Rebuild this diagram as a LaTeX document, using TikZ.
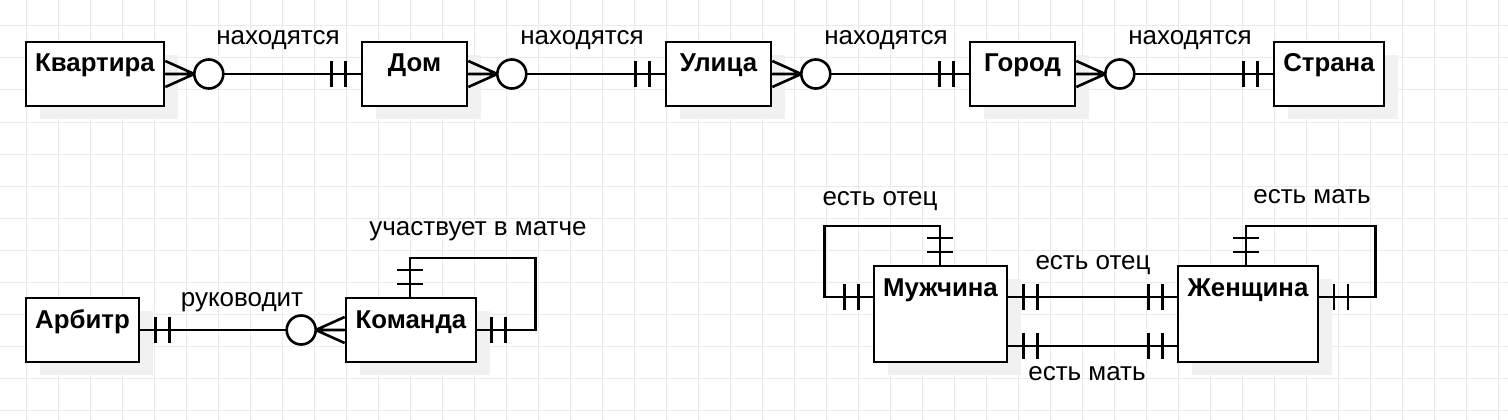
\documentclass[tikz,border=0pt]{standalone}
\usepackage{fontspec}
\setmainfont{Liberation Sans}
\usetikzlibrary{shadows}
\definecolor{gridgray}{RGB}{235,235,235}
\definecolor{shadowgray}{RGB}{241,241,241}
\begin{document}
\begin{tikzpicture}[x=1pt,y=-1pt,
  er/.style={line width=2.6pt},
  entity/.style={draw,er,fill=white,inner sep=0pt,text height=30pt,text depth=34pt,
    font=\fontsize{25.8}{30}\selectfont\bfseries,
    drop shadow={shadow xshift=14pt,shadow yshift=-13pt,fill=shadowgray,opacity=1}},
  tall/.style={text depth=66pt},
  rel/.style={font=\fontsize{26}{30}\selectfont,anchor=base,inner sep=0pt},
  bars/.pic={\draw[er] (-7pt,-13pt) -- (-7pt,13pt) (7pt,-13pt) -- (7pt,13pt);},
  crow/.pic={\draw[er] (0pt,13pt) -- (29pt,0pt) -- (0pt,-13pt) (0pt,0pt) -- (29pt,0pt);
    \draw[er,fill=white] (43.5pt,0pt) circle (14.5pt);}]
\useasboundingbox (0,0) rectangle (1508,420);
% grid
\foreach \x in {26,58,...,1498} \draw[gridgray,line width=1pt] (\x,0) -- (\x,420);
\foreach \y in {26,58,...,410} \draw[gridgray,line width=1pt] (0,\y) -- (1508,\y);
% entities
\node[entity,minimum width=138pt] (kv) at (95,74) {Квартира};
\node[entity,minimum width=105pt] (dom) at (414.5,74) {Дом};
\node[entity,minimum width=105pt] (ul) at (718.5,74) {Улица};
\node[entity,minimum width=105pt] (gor) at (1022.5,74) {Город};
\node[entity,minimum width=110pt] (str) at (1329,74) {Страна};
\node[entity,minimum width=113pt] (arb) at (82.5,330) {Арбитр};
\node[entity,minimum width=130pt] (kom) at (411,330) {Команда};
\node[entity,tall,minimum width=133pt] (muz) at (940.5,314) {Мужчина};
\node[entity,tall,minimum width=140pt] (zhen) at (1248,314) {Женщина};
% top row
\draw[er] (kv) -- (dom) (dom) -- (ul) (ul) -- (gor) (gor) -- (str);
\foreach \a/\b in {kv/dom,dom/ul,ul/gor,gor/str}{
  \pic at (\a.east) {crow};
  \pic at ([xshift=-22pt]\b.west) {bars};
}
\node[rel] (r1) at (278,45) {находятся};
\node[rel] (r2) at (582,45) {находятся};
\node[rel] (r3) at (886,45) {находятся};
\node[rel] (r4) at (1190,45) {находятся};
% referee and team
\draw[er] (arb) -- (kom);
\pic at ([xshift=22pt]arb.east) {bars};
\pic[xscale=-1] at (kom.west) {crow};
\node[rel] (r5) at (242,306) {руководит};
\draw[er] (kom.east) -- ++(58,0) -- ++(0,-72) -| ([xshift=-1pt]kom.north);
\pic at ([xshift=21pt]kom.east) {bars};
\pic[rotate=90] at (410,277) {bars};
\node[rel] (r6) at (478,235) {участвует в матче};
% man and woman
\draw[er] ([yshift=17pt]muz.east) -- ([yshift=17pt]zhen.west);
\draw[er] ([yshift=-32pt]muz.east) -- ([yshift=-32pt]zhen.west);
\foreach \s in {17,-32}{
  \pic at ([xshift=22pt,yshift=\s pt]muz.east) {bars};
  \pic at ([xshift=-21pt,yshift=\s pt]zhen.west) {bars};
}
\node[rel] (r7) at (1093,269) {есть отец};
\node[rel] (r8) at (1087,380) {есть мать};
\draw[er] ([yshift=17pt]muz.west) -- ++(-48,0) -- ++(0,-71) -| ([xshift=-0.5pt]muz.north);
\pic at ([xshift=-21pt,yshift=17pt]muz.west) {bars};
\pic[rotate=90] at (940,245) {bars};
\node[rel] (r9) at (880,205) {есть отец};
\draw[er] ([yshift=17pt]zhen.east) -- ++(56,0) -- ++(0,-71) -| ([xshift=-2pt]zhen.north);
\pic at ([xshift=21.5pt,yshift=17pt]zhen.east) {bars};
\pic[rotate=90] at (1246,245) {bars};
\node[rel] (r10) at (1312,203) {есть мать};
\end{tikzpicture}
\end{document}
